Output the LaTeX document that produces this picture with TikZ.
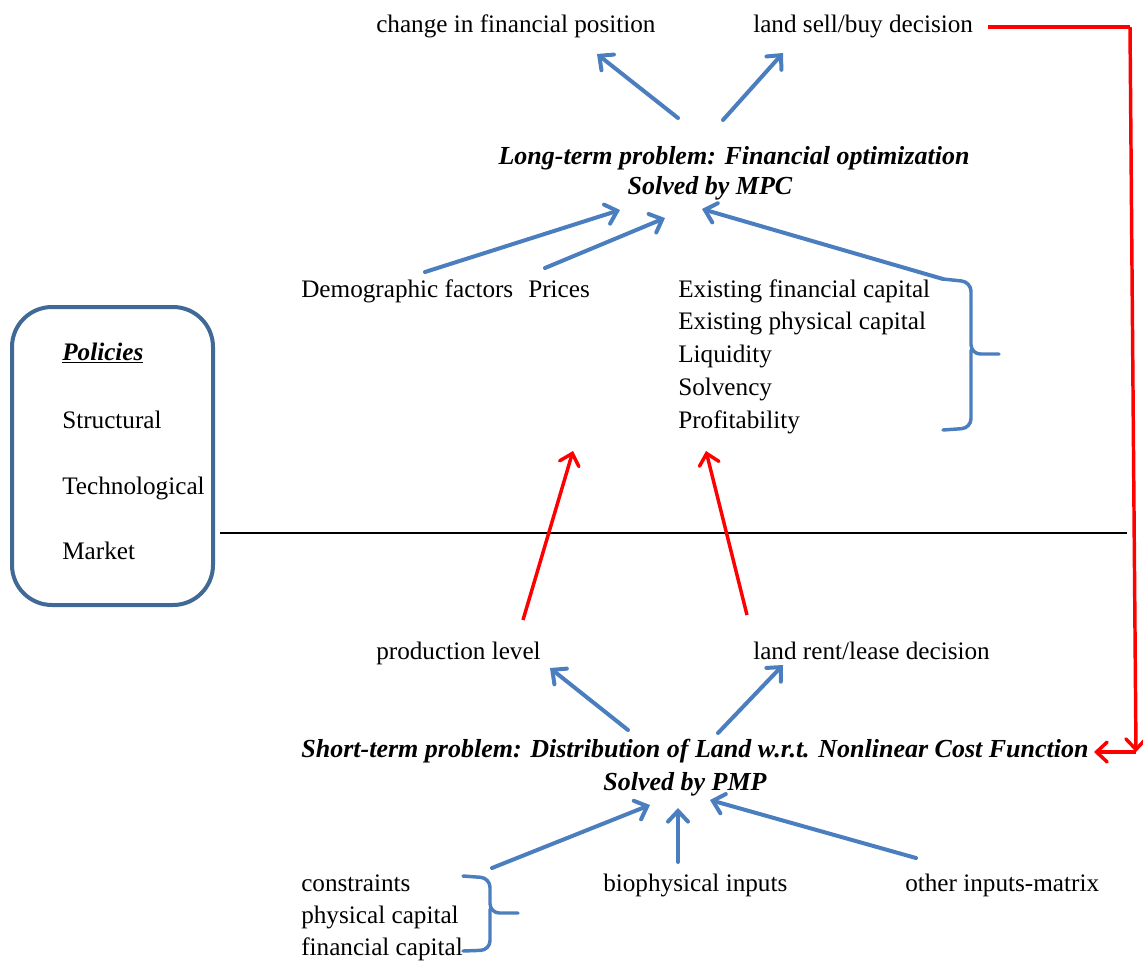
\documentclass[tikz,border=0pt]{standalone}
\usepackage{fontspec}
\setmainfont{Liberation Serif}
\usetikzlibrary{arrows.meta}
\definecolor{arrblue}{RGB}{74,126,190}
\definecolor{boxblue}{RGB}{65,105,150}
\begin{document}
\begin{tikzpicture}[x=0.75pt,y=-0.75pt,
  txt/.style={inner sep=0pt, anchor=base west, font=\fontsize{18.9}{24}\selectfont},
  ttl/.style={inner sep=0pt, anchor=base, font=\fontsize{19.5}{24}\selectfont\bfseries\itshape},
  barrow/.style={draw=arrblue, line width=3pt, line cap=round, -{Straight Barb[length=8pt,width=15pt,line cap=round]}},
  rarrow/.style={draw=red, line width=2.6pt, -{Straight Barb[length=8pt,width=15pt,line cap=round]}},
  rline/.style={draw=red, line width=2.6pt},
  bracestyle/.style={draw=arrblue, line width=2.6pt, rounded corners=7pt, line cap=round},
  polbox/.style={draw=boxblue, line width=3pt, rounded corners=30pt, inner sep=0pt}]
\useasboundingbox (0,0) rectangle (1143,961);

% top outputs
\node[txt] (chfin) at (376,32) {change in financial position};
\node[txt] (landsell) at (753,32) {land sell/buy decision};

% long-term title
\node[ttl] (lt1) at (734,164) {Long-term problem: Financial optimization};
\node[ttl] (lt2) at (710,194) {Solved by MPC};

% long-term inputs
\node[txt] (demo) at (301,297) {Demographic factors};
\node[txt] (prices) at (528,297) {Prices};
\node[txt] (exfin) at (678,297) {Existing financial capital};
\node[txt] (exphy) at (678,329) {Existing physical capital};
\node[txt] (liq) at (678,362) {Liquidity};
\node[txt] (solv) at (678,395) {Solvency};
\node[txt] (prof) at (678,428) {Profitability};

% policies box
\node[polbox, minimum width=150.75pt, minimum height=223.5pt] (polbox) at (112.5,456) {};
\node[txt] (pol) at (62,360) {\bfseries\itshape\underline{Policies}};
\node[txt] (struct) at (62,428) {Structural};
\node[txt] (tech) at (62,494) {Technological};
\node[txt] (market) at (62,559) {Market};

% divider
\coordinate (divL) at (220,533);
\coordinate (divR) at (1127,533);
\draw[line width=0.8pt] (divL) -- (divR);

% short-term outputs
\node[txt] (prod) at (376,659) {production level};
\node[txt] (rent) at (753,659) {land rent/lease decision};

% short-term title
\node[ttl] (st1) at (695,757) {Short-term problem: Distribution of Land w.r.t. Nonlinear Cost Function};
\node[ttl] (st2) at (685,790) {Solved by PMP};

% bottom inputs
\node[txt] (cons) at (301,891) {constraints};
\node[txt] (phys) at (301,923) {physical capital};
\node[txt] (fin) at (301,955) {financial capital};
\node[txt] (bio) at (603,891) {biophysical inputs};
\node[txt] (other) at (905,891) {other inputs-matrix};

% arrow end coordinates
\coordinate (a1s) at (678,118); \coordinate (a1e) at (597,54);
\coordinate (a2s) at (723,120); \coordinate (a2e) at (783,53);
\coordinate (a3s) at (425,272); \coordinate (a3e) at (620,210);
\coordinate (a4s) at (545,268); \coordinate (a4e) at (665,218);
\coordinate (a5s) at (943,279); \coordinate (a5e) at (702,209);
\coordinate (r1s) at (523,620); \coordinate (r1e) at (573,451);
\coordinate (r2s) at (747,615); \coordinate (r2e) at (706,451);
\coordinate (b1s) at (628,730); \coordinate (b1e) at (550,668);
\coordinate (b2s) at (718,733); \coordinate (b2e) at (783,665);
\coordinate (c1s) at (492,868); \coordinate (c1e) at (650,805);
\coordinate (c2s) at (678,862); \coordinate (c2e) at (678,808);
\coordinate (c3s) at (916,858); \coordinate (c3e) at (710,800);
\coordinate (redA) at (988,27);
\coordinate (redB) at (1130,27);
\coordinate (redC) at (1136,752);
\coordinate (redD) at (1094,752);

% blue arrows
\draw[barrow] (a1s) -- (a1e);
\draw[barrow] (a2s) -- (a2e);
\draw[barrow] (a3s) -- (a3e);
\draw[barrow] (a4s) -- (a4e);
\draw[barrow] (a5s) -- (a5e);
\draw[barrow] (b1s) -- (b1e);
\draw[barrow] (b2s) -- (b2e);
\draw[barrow] (c1s) -- (c1e);
\draw[barrow] (c2s) -- (c2e);
\draw[barrow] (c3s) -- (c3e);

% red arrows
\draw[rarrow] (r1s) -- (r1e);
\draw[rarrow] (r2s) -- (r2e);
\draw[rline] (redA) -- (redB);
\draw[rarrow] (redB) -- (redC);
\draw[rarrow] (redC) -- (redD);

% braces
\draw[bracestyle] (943,279) -- (971,282) -- (971,354) -- (999,354);
\draw[bracestyle] (971,350) -- (971,428) -- (943,430);
\draw[bracestyle] (463,876) -- (490,878) -- (490,913) -- (518,913);
\draw[bracestyle] (490,909) -- (490,950) -- (463,951);
\end{tikzpicture}
\end{document}
